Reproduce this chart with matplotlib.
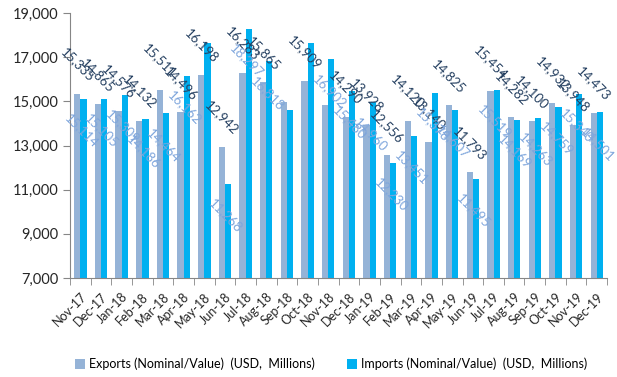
import matplotlib.pyplot as plt
import numpy as np
from matplotlib.ticker import FuncFormatter

months = ['Nov-17', 'Dec-17', 'Jan-18', 'Feb-18', 'Mar-18', 'Apr-18', 'May-18', 'Jun-18',
          'Jul-18', 'Aug-18', 'Sep-18', 'Oct-18', 'Nov-18', 'Dec-18', 'Jan-19', 'Feb-19',
          'Mar-19', 'Apr-19', 'May-19', 'Jun-19', 'Jul-19', 'Aug-19', 'Sep-19', 'Oct-19',
          'Nov-19', 'Dec-19']
exports = [15335, 14865, 14576, 14132, 15511, 14496, 16198, 12942,
           16283, 15865, 14950, 15909, 14826, 14290, 13928, 12556,
           14120, 13140, 14825, 11793, 15454, 14282, 14100, 14932,
           13948, 14473]
imports = [15114, 15105, 15309, 14186, 14464, 16162, 17640, 11268,
           18297, 16818, 14590, 17645, 16902, 15480, 14960, 12230,
           13451, 15378, 14607, 11495, 15519, 14169, 14263, 14759,
           15340, 14501]
# labels Excel did not show in the source
hidden_exp = {'Sep-18', 'Nov-18'}
hidden_imp = {'May-18', 'Sep-18', 'Oct-18'}

exp_color = '#95B3D7'
imp_color = '#00B0F0'
exp_lbl_color = '#243F60'
imp_lbl_color = '#7FA6DC'
plt.rcParams['font.family'] = ['Lato', 'DejaVu Sans']

fig = plt.figure(figsize=(6.17, 3.77), dpi=100)
ax = fig.add_axes([0.1135, 0.2626, 0.8705, 0.7029])

x = np.arange(len(months))
w = 0.3
ax.bar(x - w / 2, exports, w, color=exp_color, label='Exports (Nominal/Value)  (USD,  Millions)')
ax.bar(x + w / 2, imports, w, color=imp_color, label='Imports (Nominal/Value)  (USD,  Millions)')

# data labels, rotated like the Excel original
for i, m in enumerate(months):
    if m not in hidden_exp:
        ax.annotate(f'{exports[i]:,}', (x[i], exports[i]), xytext=(-3, 29),
                    textcoords='offset pixels', rotation=-45, rotation_mode='anchor',
                    ha='center', va='center', fontsize=9.5, color=exp_lbl_color)
    if m not in hidden_imp:
        ax.annotate(f'{imports[i]:,}', (x[i], imports[i]), xytext=(1, -32),
                    textcoords='offset pixels', rotation=-45, rotation_mode='anchor',
                    ha='center', va='center', fontsize=9.5, color=imp_lbl_color)

ax.set_xlim(-0.5, len(months) - 0.5)
ax.set_ylim(7000, 19000)
ax.set_yticks(np.arange(7000, 19001, 2000))
ax.yaxis.set_major_formatter(FuncFormatter(lambda v, p: f'{int(v):,}'))

ax.set_xticks(x)
ax.set_xticklabels(months, rotation=45, ha='right', rotation_mode='anchor', fontsize=9, color='#262626')
ax.set_xticks(np.arange(-0.5, len(months), 1), minor=True)
ax.tick_params(axis='x', which='major', length=0, pad=9)
ax.tick_params(axis='x', which='minor', length=5, color='#868686', direction='out')
ax.tick_params(axis='y', length=5, color='#868686', labelsize=10.5, labelcolor='#262626')

for s in ['top', 'right']:
    ax.spines[s].set_visible(False)
ax.spines['left'].set_color('#868686')
ax.spines['bottom'].set_color('#868686')

fig.legend(loc='lower center', bbox_to_anchor=(0.537, -0.012), ncol=2, frameon=False,
           fontsize=9, handlelength=0.8, handleheight=0.8, handletextpad=0.3, columnspacing=2.6)

plt.savefig('out.png', dpi=100)
